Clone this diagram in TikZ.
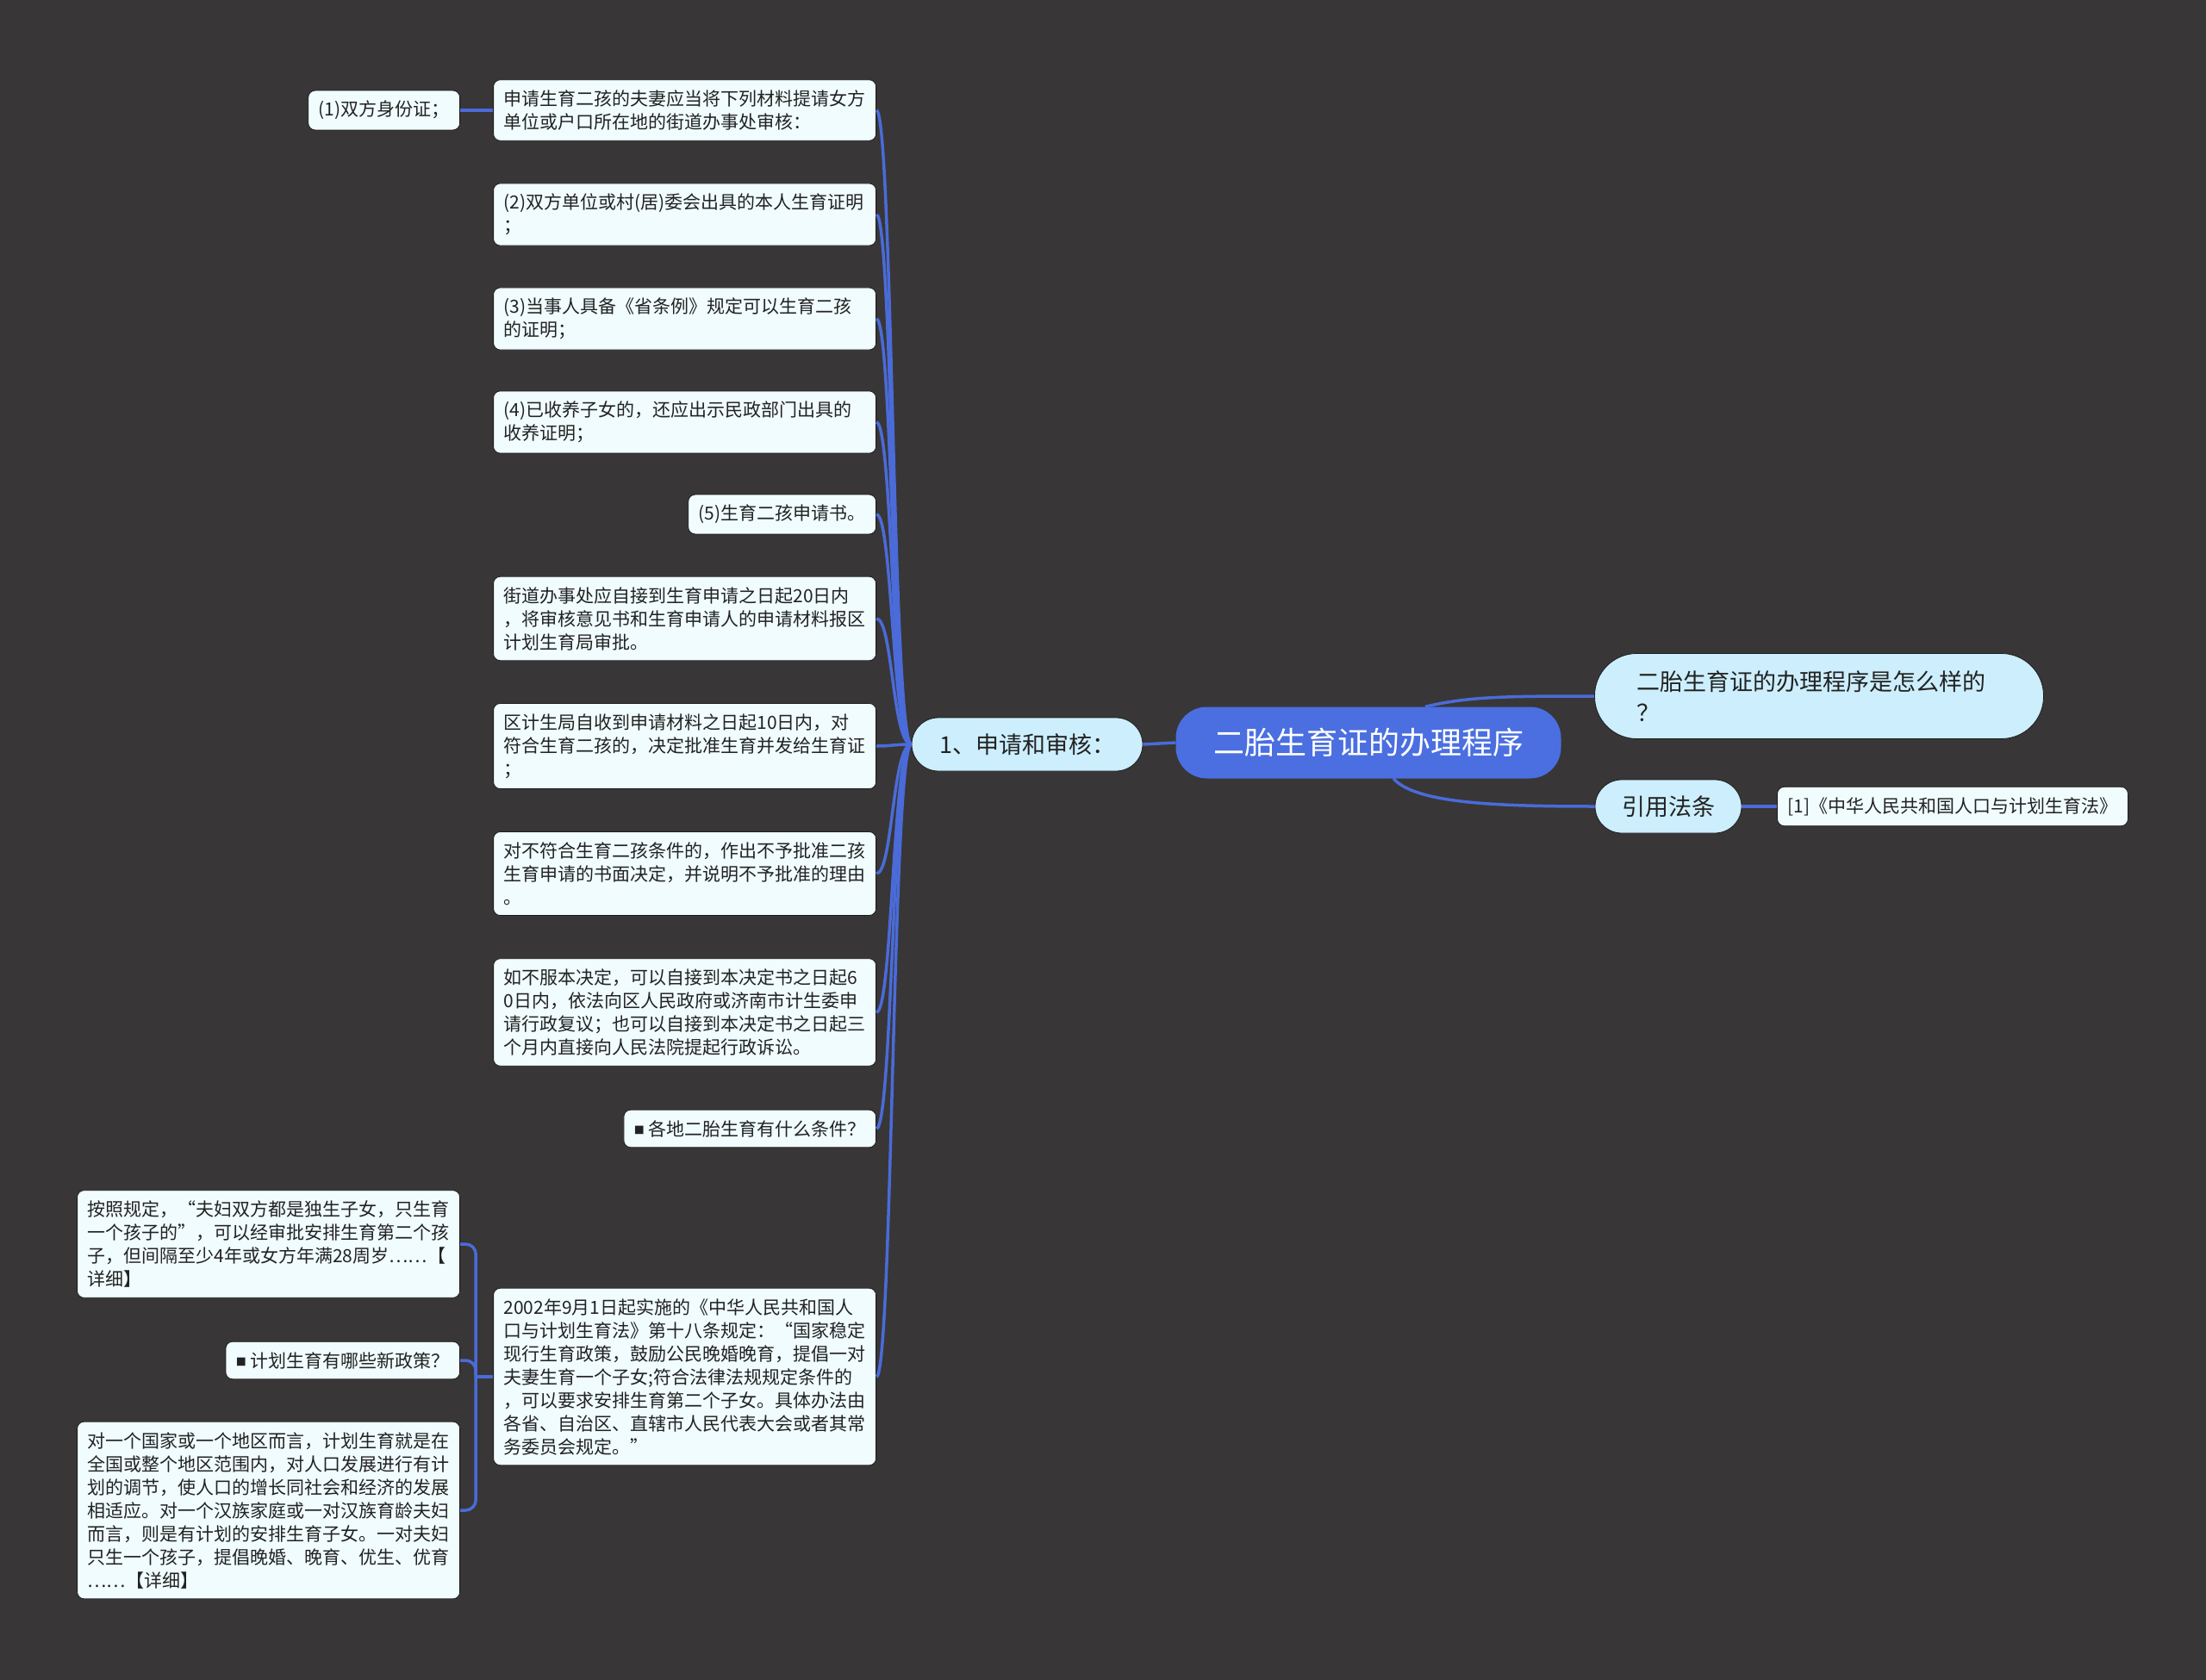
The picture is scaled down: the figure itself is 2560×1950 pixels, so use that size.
\documentclass[tikz,border=0pt]{standalone}
\usepackage{fontspec}
\newfontfamily\cjk{Noto Sans CJK SC}
\usetikzlibrary{calc}

\definecolor{bgdark}{RGB}{56,54,55}
\definecolor{rootblue}{RGB}{75,111,224}
\definecolor{linkblue}{RGB}{74,107,216}
\definecolor{topicbg}{RGB}{205,238,253}
\definecolor{leafbg}{RGB}{240,252,254}
\definecolor{inkdark}{RGB}{34,34,34}
\definecolor{edgedark}{RGB}{28,28,28}

\newcommand{\bulletsq}{\raisebox{2pt}{\fontsize{12}{12}\selectfont ■}\ }

\tikzset{
  leaf/.style={draw=edgedark, line width=0.8pt, fill=leafbg, rounded corners=8pt,
    inner xsep=12pt, inner ysep=12pt, text=inkdark, align=left,
    font=\cjk\fontsize{21}{27}\selectfont},
  wide/.style={text width=420pt},
  topic/.style={draw=edgedark, line width=0.8pt, fill=topicbg, rounded corners=31pt,
    minimum height=62pt, text=inkdark, font=\cjk\fontsize{27}{36}\selectfont},
  rootbox/.style={fill=rootblue, rounded corners=36pt, minimum width=447pt,
    minimum height=83pt, text=white, font=\cjk\fontsize{36}{40}\selectfont},
  link/.style={draw=linkblue, line width=3.5pt},
}

\begin{document}
\begin{tikzpicture}[x=1pt, y=-1pt]
\fill[bgdark] (0,0) rectangle (2560,1950);

% centre and first level
\node[rootbox] (root) at (1588,862) {二胎生育证的办理程序};
\node[topic, minimum width=268pt] (apply) at (1192,864) {1、申请和审核：};
\node[topic, minimum height=99pt, rounded corners=49pt, align=left,
  text width=423pt, inner xsep=49pt] (ask) at (2111,808) {二胎生育证的办理程序是怎么样的\\？};
\node[topic, minimum width=170pt] (cite) at (1936,936) {引用法条};
\node[leaf] (law) at (2266,936) {[1]《中华人民共和国人口与计划生育法》};

% steps
\node[leaf, wide, anchor=east] (m1) at (1017,128) {申请生育二孩的夫妻应当将下列材料提请女方\\单位或户口所在地的街道办事处审核：};
\node[leaf, anchor=east] (id) at (534,128) {(1)双方身份证；};
\node[leaf, wide, anchor=east] (m2) at (1017,249) {(2)双方单位或村(居)委会出具的本人生育证明\\；};
\node[leaf, wide, anchor=east] (m3) at (1017,370) {(3)当事人具备《省条例》规定可以生育二孩\\的证明；};
\node[leaf, wide, anchor=east] (m4) at (1017,490) {(4)已收养子女的，还应出示民政部门出具的\\收养证明；};
\node[leaf, anchor=east] (m5) at (1017,597) {(5)生育二孩申请书。};
\node[leaf, wide, anchor=east] (m6) at (1017,718) {街道办事处应自接到生育申请之日起20日内\\，将审核意见书和生育申请人的申请材料报区\\计划生育局审批。};
\node[leaf, wide, anchor=east] (m7) at (1017,866) {区计生局自收到申请材料之日起10日内，对\\符合生育二孩的，决定批准生育并发给生育证\\；};
\node[leaf, wide, anchor=east] (m8) at (1017,1014) {对不符合生育二孩条件的，作出不予批准二孩\\生育申请的书面决定，并说明不予批准的理由\\。};
\node[leaf, wide, anchor=east] (m9) at (1017,1175) {如不服本决定，可以自接到本决定书之日起6\\0日内，依法向区人民政府或济南市计生委申\\请行政复议；也可以自接到本决定书之日起三\\个月内直接向人民法院提起行政诉讼。};
\node[leaf, anchor=east] (m10) at (1017,1310) {\bulletsq 各地二胎生育有什么条件？};
\node[leaf, wide, anchor=east] (m11) at (1017,1598) {2002年9月1日起实施的《中华人民共和国人\\口与计划生育法》第十八条规定：“国家稳定\\现行生育政策，鼓励公民晚婚晚育，提倡一对\\夫妻生育一个子女;符合法律法规规定条件的\\，可以要求安排生育第二个子女。具体办法由\\各省、自治区、直辖市人民代表大会或者其常\\务委员会规定。”};

% notes on the law
\node[leaf, wide, anchor=east] (s1) at (534,1444) {按照规定，“夫妇双方都是独生子女，只生育\\一个孩子的”，可以经审批安排生育第二个孩\\子，但间隔至少4年或女方年满28周岁……【\\详细】};
\node[leaf, anchor=east] (s2) at (534,1579) {\bulletsq 计划生育有哪些新政策？};
\node[leaf, wide, anchor=east] (s3) at (534,1753) {对一个国家或一个地区而言，计划生育就是在\\全国或整个地区范围内，对人口发展进行有计\\划的调节，使人口的增长同社会和经济的发展\\相适应。对一个汉族家庭或一对汉族育龄夫妇\\而言，则是有计划的安排生育子女。一对夫妇\\只生一个孩子，提倡晚婚、晚育、优生、优育\\……【详细】};

% connectors
\draw[link] (root.west) -- (apply.east);
\draw[link] ([xshift=66pt]root.north) .. controls +(50,-12) and +(-100,0) .. (ask.west);
\draw[link] ([xshift=29pt]root.south) .. controls +(25,28) and +(-120,0) .. (cite.west);
\draw[link] (cite.east) -- (law.west);
\foreach \m in {m1,m2,m3,m4,m5,m6,m7,m8,m9,m10,m11}
  \draw[link] (apply.west) .. controls +(-22,0) and +(19,0) .. (\m.east);
\draw[link] (m1.west) -- (id.east);
\draw[link] (m11.west) -- ++(-20,0) coordinate (fork);
\foreach \s in {s1,s2,s3}
  \draw[link, rounded corners=12pt] (fork) |- (\s.east);
\end{tikzpicture}
\end{document}
